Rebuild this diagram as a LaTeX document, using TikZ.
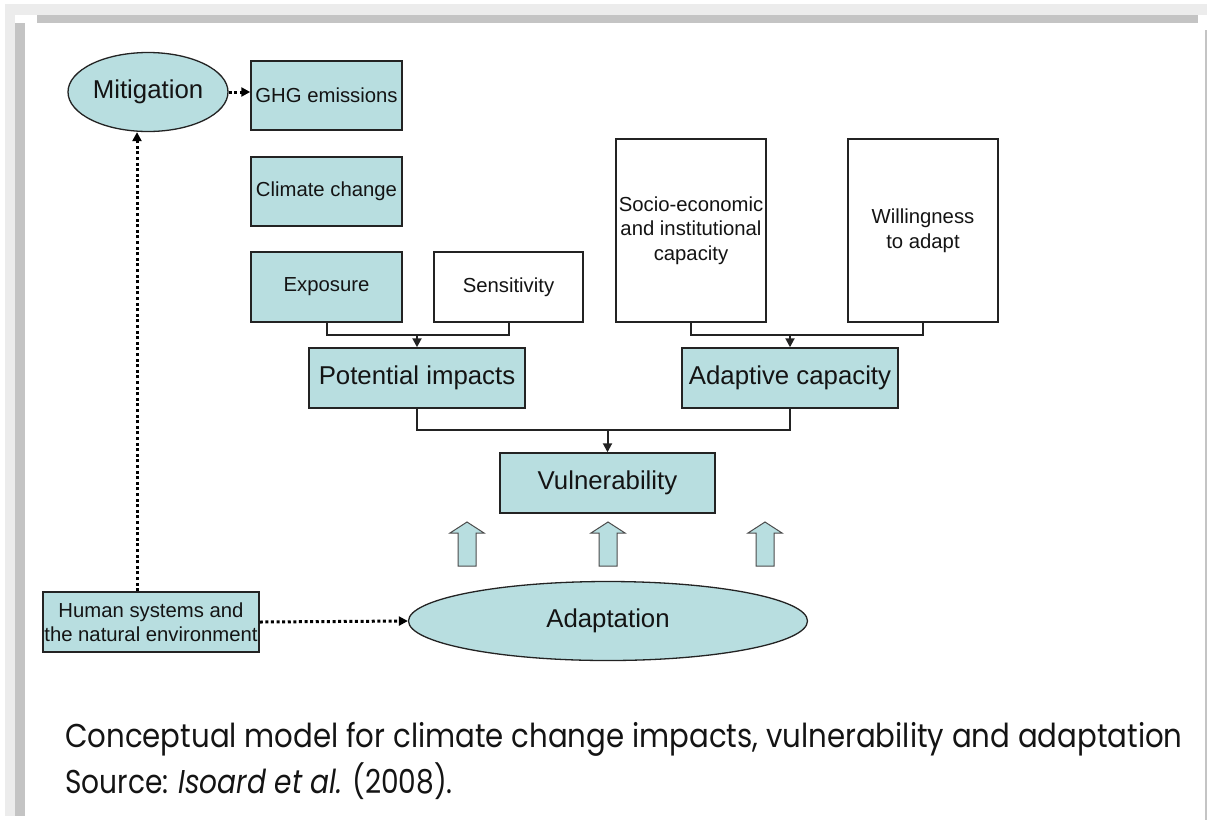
\documentclass[tikz,border=0pt]{standalone}
\usepackage{fontspec}
\setmainfont{Liberation Sans}
\newfontfamily\capfont{Poppins}
\usetikzlibrary{arrows.meta,shapes.geometric,calc}
\definecolor{boxfill}{RGB}{184,222,224}
\definecolor{edge}{RGB}{35,35,35}
\definecolor{txt}{RGB}{20,20,20}
\definecolor{frameA}{RGB}{236,236,236}
\definecolor{frameB}{RGB}{196,196,196}
\begin{document}
\begin{tikzpicture}[x=1pt,y=-1pt,
 box/.style={draw=edge,line width=1.5pt,fill=boxfill,inner sep=0pt,align=center,text=txt},
 wbox/.style={box,fill=white},
 oval/.style={ellipse,draw=edge,line width=1.3pt,fill=boxfill,inner sep=0pt,text=txt},
 big/.style={font=\fontsize{25.8}{30}\selectfont},
 small/.style={font=\fontsize{20.3}{24.5}\selectfont},
 conn/.style={draw=edge,line width=2pt},
 tipped/.style={conn,-{Triangle[length=9pt,width=9pt]}},
 dots/.style={draw=black,line width=3pt,dash pattern=on 3pt off 2.6pt,-{Triangle[length=9pt,width=9pt]}},
 blockup/.pic={\draw[draw=gray!60!black,line width=1pt,fill=boxfill] (0,0)--(17,11)--(9,11)--(9,44)--(-9,44)--(-9,11)--(-17,11)--cycle;}
]
\useasboundingbox (0,0) rectangle (1207,820);
\fill[white] (0,0) rectangle (1207,820);
% frame
\fill[frameA] (5,4) rectangle (1207,15);
\fill[frameA] (5,4) rectangle (15,816);
\fill[frameB] (37,15) rectangle (1198,23);
\fill[frameB] (15,23) rectangle (25,816);
\fill[frameB] (1205,30) rectangle (1207,820);

% nodes
\node[oval,big,minimum width=160pt,minimum height=79pt] (mit) at (148,92) {Mitigation};
\node[box,small,minimum width=151pt,minimum height=69pt] (ghg) at (326.5,95.5) {GHG emissions};
\node[box,small,minimum width=151pt,minimum height=69pt] (cc) at (326.5,191.5) {Climate change};
\node[box,small,minimum width=151pt,minimum height=70pt] (exp) at (326.5,287) {Exposure};
\node[wbox,small,minimum width=149pt,minimum height=70pt] (sen) at (508.5,287) {Sensitivity};
\node[box,big,minimum width=216pt,minimum height=60pt] (pot) at (417,378) {Potential impacts};
\node[wbox,small,minimum width=150pt,minimum height=183pt] (soc) at (691,230.5) {Socio-economic\\and institutional\\capacity};
\node[wbox,small,minimum width=150pt,minimum height=183pt] (wil) at (923,230.5) {Willingness\\to adapt};
\node[box,big,minimum width=216pt,minimum height=60pt] (ada) at (790,378) {Adaptive capacity};
\node[box,big,minimum width=215pt,minimum height=60pt] (vul) at (607.5,483) {Vulnerability};
\node[box,small,minimum width=216pt,minimum height=60pt] (hum) at (151,622) {Human systems and\\the natural environment};
\node[oval,big,minimum width=399pt,minimum height=79pt] (adp) at (608,621) {Adaptation};

% junctions
\coordinate (j1) at (417,335);
\coordinate (j2) at (790,335);
\coordinate (j3) at (607.5,430);
\coordinate (vx) at (137,0);

\draw[conn] (exp.south) |- (j1) -| (sen.south);
\draw[tipped] (j1) -- (pot.north);
\draw[conn] (soc.south) |- (j2) -| (wil.south);
\draw[tipped] (j2) -- (ada.north);
\draw[conn] (pot.south) |- (j3) -| (ada.south);
\draw[tipped] (j3) -- (vul.north);

\draw[dots] (mit.east) -- (mit.east -| ghg.west);
\draw[dots] (hum.north -| vx) -- (vx |- mit.south);
\draw[dots] (hum.east) -- (adp.west);

% hollow arrows
\pic at (467,522) {blockup};
\pic at (608,522) {blockup};
\pic at (765,522) {blockup};

% caption
\node[anchor=base west,inner sep=0pt,text=txt,font=\capfont\fontsize{33}{40}\selectfont] (cap1) at (65,747) {\scalebox{0.885}[1]{Conceptual model for climate change impacts, vulnerability and adaptation}};
\node[anchor=base west,inner sep=0pt,text=txt,font=\capfont\fontsize{33}{40}\selectfont] (cap2) at (65,793) {\scalebox{0.85}[1]{Source: \textit{Isoard et al.} (2008).}};
\end{tikzpicture}
\end{document}
